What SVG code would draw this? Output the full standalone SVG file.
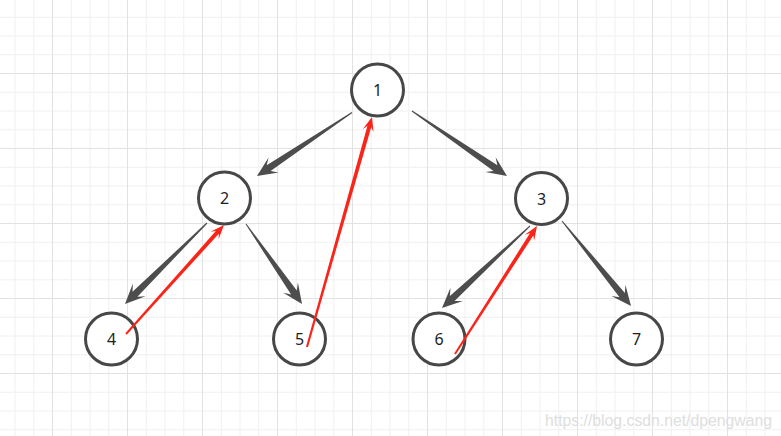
<svg xmlns="http://www.w3.org/2000/svg" width="781" height="436" viewBox="0 0 781 436">
<style>
.node circle{fill:#fff;stroke:#474747;stroke-width:3}
.node text{font-family:"Noto Sans","Open Sans","Liberation Sans",sans-serif;font-size:16px;fill:#1e1e1e;text-anchor:middle;dominant-baseline:central}
.tree{fill:#4d4d4d}
.back{fill:#fb2419}
.wm{font-family:"Liberation Sans",Arial,sans-serif;font-size:16px;fill:#dedede}
</style>
<defs>
<pattern id="grid" width="75" height="75" patternUnits="userSpaceOnUse" x="52" y="73">
<path d="M19.25 0V75M38 0V75M56.75 0V75M0 19.25H75M0 38H75M0 56.75H75" stroke="#f0f0f0" stroke-width="1" fill="none"/>
<path d="M0.5 0V75M0 0.5H75" stroke="#e2e2e2" stroke-width="1" fill="none"/>
</pattern>
</defs>
<rect width="781" height="436" fill="#fff"/>
<rect width="781" height="436" fill="url(#grid)"/>
<g id="connectors">
<polygon class="tree" points="351.7,112.1 266.7,165.3 268.6,157.4 257,176 278.6,172.4 270.6,171.1 352.3,112.9"/>
<polygon class="tree" points="411.7,111.4 493.5,171.0 485.4,172.1 507,176 495.6,157.3 497.4,165.2 412.3,110.6"/>
<polygon class="tree" points="206.6,222.6 132.5,291.7 132.9,283.5 125,304 145.6,296.3 137.4,296.7 207.4,223.4"/>
<polygon class="tree" points="245.6,224.3 291.1,294.5 283.2,292.8 302,304 297.9,282.5 296.8,290.5 246.4,223.7"/>
<polygon class="tree" points="529.7,225.6 449.9,295.9 450.5,287.8 442,308 462.8,301.0 454.6,301.0 530.3,226.4"/>
<polygon class="tree" points="561.6,221.3 619.5,297.3 611.4,296.1 631,306 625.4,284.8 624.9,292.9 562.4,220.7"/>
</g>
<g id="n1" class="node"><circle cx="377.5" cy="90" r="26"/><text x="377.5" y="90">1</text></g>
<g id="n2" class="node"><circle cx="224.5" cy="198" r="26"/><text x="224.5" y="198">2</text></g>
<g id="n3" class="node"><circle cx="541.5" cy="198.5" r="26"/><text x="541.5" y="198.5">3</text></g>
<g id="n4" class="node"><circle cx="111.5" cy="339" r="26"/><text x="111.5" y="339">4</text></g>
<g id="n5" class="node"><circle cx="299.5" cy="339" r="26"/><text x="299.5" y="339">5</text></g>
<g id="n6" class="node"><circle cx="439" cy="339" r="26"/><text x="439" y="339">6</text></g>
<g id="n7" class="node"><circle cx="636.5" cy="339" r="26"/><text x="636.5" y="339">7</text></g>
<g id="backlinks">
<polygon class="back" points="126.7,334.7 218.8,233.8 218.7,239.1 224,225 210.6,231.7 215.8,231.1 125.3,333.3"/>
<polygon class="back" points="308.0,347.3 371.2,127.2 373.5,132.0 372,117 362.9,129.0 367.4,126.1 306.0,346.7"/>
<polygon class="back" points="455.8,354.5 533.3,235.5 534.1,240.8 537,226 524.8,234.8 529.9,233.3 454.2,353.5"/>
</g>
<text class="wm" x="545" y="426" textLength="227" lengthAdjust="spacingAndGlyphs">https://blog.csdn.net/dpengwang</text>
</svg>
